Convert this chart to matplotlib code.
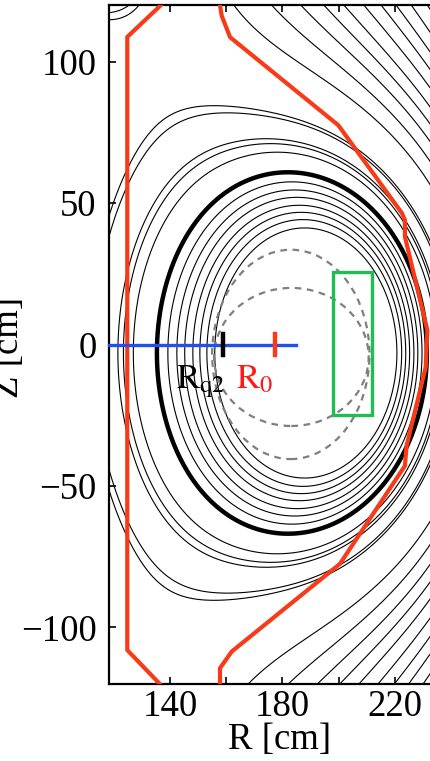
import numpy as np
import matplotlib.pyplot as plt
from matplotlib.patches import Ellipse, Rectangle

plt.rcParams['font.family'] = ['Liberation Serif', 'DejaVu Serif']
plt.rcParams['mathtext.fontset'] = 'stix'

# ---- equilibrium model parameters (tuned to the picture) ----
axis_R, edge_R, plasma_Z = 209.0, 189.0, -3.0
plasma_a, plasma_kappa, profile_pow = 46.0, 1.9, 1.2
coil_R, coil_Z, coil_I = 112.0, 148.0, 0.35
vert_field = 0.003
quad = 0.8e-5

# ---- points the flux contours pass through ----
inner_R = [156.0, 153.2, 150.7, 148.2, 145.3, 142.5, 139.3]   # at Z = 0
bold_R = 135.4                                               # bold surface at Z = 0
outer_R = [168.0, 168.0, 127.0, 121.5, 125.0]
outer_Z = [70.4, 81.5, 0.0, 0.0, 116.5]
top_R = [163.1, 176.6, 187.0, 195.2, 202.3, 209.4, 215.5, 220.8, 226.2, 231.9]  # cross Z=119.5

# vessel wall
wall_in_R = [136.8, 124.8, 124.8, 136.4]
wall_in_Z = [120.0, 108.7, -108.0, -120.0]
wall_out_R = [157.8, 158.4, 161.4, 199.9, 222.5, 223.6, 223.6, 231.6, 231.0, 224.2, 223.6, 200.5, 162.0, 157.8, 157.8]
wall_out_Z = [120.0, 116.2, 108.6, 77.5, 46.5, 44.0, 38.1, 5.0, -8.0, -35.8, -42.9, -77.5, -108.5, -114.4, -120.0]

# dashed surfaces (centre R, centre Z, width, height)
dash_R = [183.0, 183.2]
dash_Z = [-3.5, -4.4]
dash_w = [56.0, 55.0]
dash_h = [74.0, 48.8]

# diagnostic box and markers
box_R, box_Z, box_w, box_h = 198.0, -25.0, 13.8, 50.8
chord_R = [118.3, 184.8]
Rq2, R0 = 158.7, 177.4

# ---- flux function from the current profile ----
h = 1.0
Rg = np.arange(40.0, 330.0 + h, h)
Zg = np.arange(-220.0, 220.0 + h, h)
RR, ZZ = np.meshgrid(Rg, Zg)
nZ, nR = RR.shape

shift = axis_R - edge_R
zz = (ZZ - plasma_Z) / (plasma_kappa * plasma_a)
rho = np.sqrt(((RR - axis_R) / plasma_a) ** 2 + zz ** 2)
for _ in range(150):
    rho = np.minimum(rho, 1.5)
    rho = np.sqrt(((RR - axis_R + shift * rho ** 2) / plasma_a) ** 2 + zz ** 2)
j = np.clip(1.0 - rho ** 2, 0, None) ** profile_pow
j /= j.sum() * h * h

ix = np.arange(2 * nR)
iz = np.arange(2 * nZ)
dx = np.where(ix < nR, ix, ix - 2 * nR) * h
dz = np.where(iz < nZ, iz, iz - 2 * nZ) * h
DX, DZ = np.meshgrid(dx, dz)
d2 = DX ** 2 + DZ ** 2
d2[0, 0] = (0.4 * h) ** 2
K = 0.5 * np.log(d2)
jp = np.zeros((2 * nZ, 2 * nR))
jp[:nZ, :nR] = j
psi = np.fft.irfft2(np.fft.rfft2(jp) * np.fft.rfft2(K), s=jp.shape)[:nZ, :nR] * h * h

for zc in (plasma_Z + coil_Z, plasma_Z - coil_Z):
    psi += coil_I * 0.5 * np.log((RR - coil_R) ** 2 + (ZZ - zc) ** 2)
psi += vert_field * (RR - edge_R)
psi += quad * ((RR - edge_R) ** 2 - (ZZ - plasma_Z) ** 2)


def psi_at(r, z):
    fr = (r - Rg[0]) / h
    fz = (z - Zg[0]) / h
    i0, k0 = int(fr), int(fz)
    tr, tz = fr - i0, fz - k0
    return ((1 - tr) * (1 - tz) * psi[k0, i0] + tr * (1 - tz) * psi[k0, i0 + 1]
            + (1 - tr) * tz * psi[k0 + 1, i0] + tr * tz * psi[k0 + 1, i0 + 1])


thin_levels = [psi_at(r, 0.0) for r in inner_R]
thin_levels += [psi_at(r, z) for r, z in zip(outer_R, outer_Z)]
thin_levels += [psi_at(r, 119.5) for r in top_R]
thin_levels = np.unique(np.round(thin_levels, 6))
bold_level = psi_at(bold_R, 0.0)

# ---- figure ----
fig = plt.figure(figsize=(4.31, 7.61), dpi=100)
ax = fig.add_axes([109 / 431, 1 - 684 / 761, 342 / 431, 679 / 761])

ax.contour(Rg, Zg, psi, levels=thin_levels, colors='k', linewidths=0.8)
ax.contour(Rg, Zg, psi, levels=[bold_level], colors='k', linewidths=3.2)

for cr, cz, w, hh in zip(dash_R, dash_Z, dash_w, dash_h):
    ax.add_patch(Ellipse((cr, cz), w, hh, fill=False, ec='#7f7f7f', lw=1.6,
                         ls=(0, (3, 2.5)), zorder=3))

ax.plot(wall_in_R, wall_in_Z, color='#f83a18', lw=3.0, zorder=4)
ax.plot(wall_out_R, wall_out_Z, color='#f83a18', lw=3.0, zorder=4)

ax.add_patch(Rectangle((box_R, box_Z), box_w, box_h, fill=False, ec='#1fbf4f', lw=2.4, zorder=5))

ax.plot(chord_R, [0, 0], color='#1f4ff0', lw=2.4, zorder=6, clip_on=False)
ax.plot([Rq2, Rq2], [-3.6, 3.6], color='k', lw=3.2, zorder=7)
ax.plot([R0, R0], [-3.6, 3.6], color='#f83a18', lw=3.2, zorder=7)

ax.text(142.3, -15.5, r'$\mathrm{R}_{\mathrm{q2}}$', fontsize=25, color='k', zorder=8)
ax.text(163.6, -15.5, r'$\mathrm{R}_{0}$', fontsize=25, color='#ff1a1a', zorder=8)

ax.set_xlim(118.3, 240.0)
ax.set_ylim(-120, 120)
ax.set_xticks([140, 160, 180, 200, 220])
ax.set_xticklabels(['140', '', '180', '', '220'])
ax.set_yticks([-100, -50, 0, 50, 100])
ax.set_yticklabels(['\u2212100', '\u221250', '0', '50', '100'])
ax.tick_params(direction='in', length=5, width=1.2, labelsize=26.5,
               top=True, right=True)
ax.tick_params(axis='y', pad=9)
ax.tick_params(axis='x', pad=4)
for s in ax.spines.values():
    s.set_linewidth(1.6)

ax.set_xlabel('R [cm]', fontsize=26.5, labelpad=-1)
ax.set_ylabel('Z [cm]', fontsize=26.5)
ax.yaxis.set_label_coords(-0.244, 0.495)

fig.savefig('out.png', dpi=100)
